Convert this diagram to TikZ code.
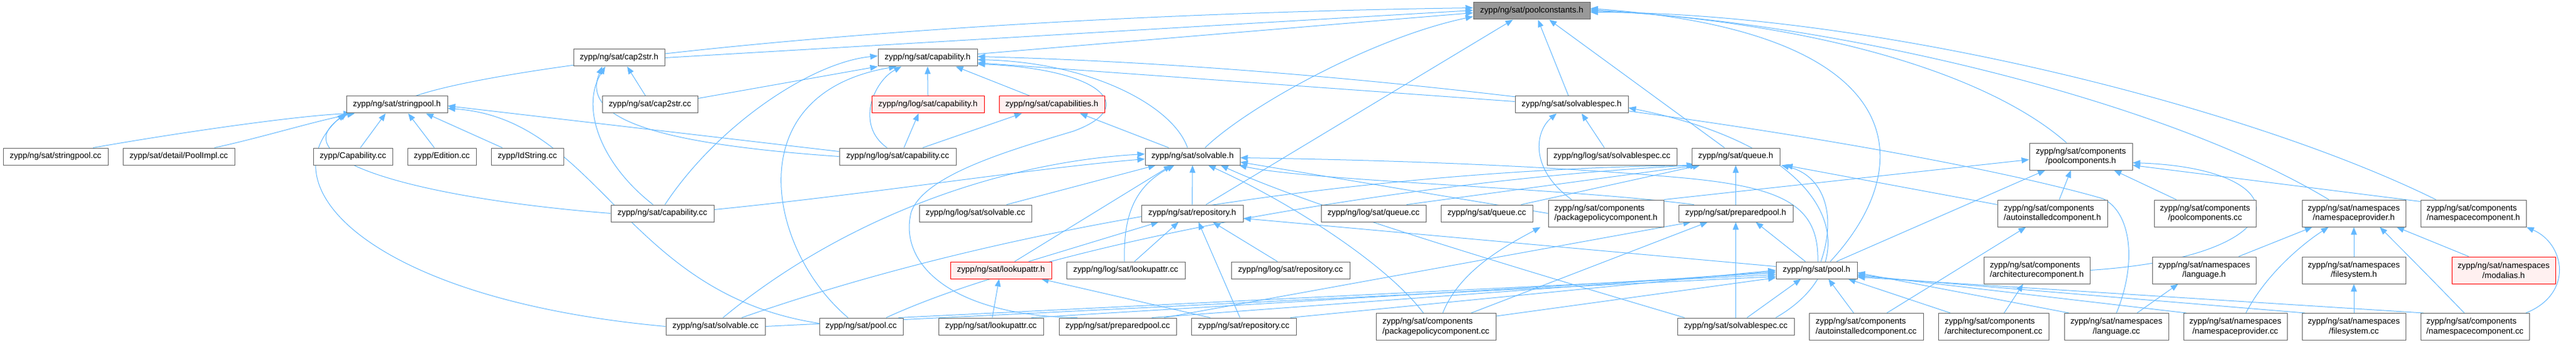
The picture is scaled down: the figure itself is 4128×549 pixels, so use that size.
\documentclass[tikz,border=0pt]{standalone}
\usepackage{fontspec}
\setmainfont{Liberation Sans}
\usetikzlibrary{arrows.meta,calc}
\definecolor{edgec}{HTML}{63B8FF}
\definecolor{bordc}{HTML}{666666}
\definecolor{rootc}{HTML}{999999}
\definecolor{redf}{HTML}{FFF0F0}
\pgfdeclarelayer{bg}
\pgfsetlayers{bg,main}
\tikzset{
  nd/.style={draw=bordc, fill=white, line width=0.75pt, inner sep=0pt,
    minimum height=20.25pt, font=\fontsize{10}{11.75}\selectfont, text=black},
  two/.style={minimum height=32.25pt},
  rootn/.style={fill=rootc},
  redn/.style={draw=red, fill=redf},
  W/.style={minimum width=#1*0.75pt},
  edg/.style={draw=edgec, line width=0.75pt, -{Triangle[length=9pt,width=7pt]}}
}
\begin{document}
\begin{tikzpicture}[x=0.75pt,y=-0.75pt]
\useasboundingbox (0,0) rectangle (4128,549);
% row 0
\node[nd,rootn,W=187] (pc) at (2454.5,17.5) {zypp/ng/sat/poolconstants.h};
% row 1
\node[nd,W=146] (c2sh) at (992,92.5) {zypp/ng/sat/cap2str.h};
\node[nd,W=159] (caph) at (1486.5,92.5) {zypp/ng/sat/capability.h};
% row 2
\node[nd,W=162] (sph) at (636,167.5) {zypp/ng/sat/stringpool.h};
\node[nd,W=153] (c2scc) at (1041.5,167.5) {zypp/ng/sat/cap2str.cc};
\node[nd,redn,W=180] (lcaph) at (1487,167.5) {zypp/ng/log/sat/capability.h};
\node[nd,redn,W=169] (capsh) at (1685.5,167.5) {zypp/ng/sat/capabilities.h};
\node[nd,W=181] (ssph) at (2518.5,167.5) {zypp/ng/sat/solvablespec.h};
% row 3
\node[nd,W=168] (spcc) at (89,250.5) {zypp/ng/sat/stringpool.cc};
\node[nd,W=179] (pimpl) at (286.5,250.5) {zypp/sat/detail/PoolImpl.cc};
\node[nd,W=127] (Capcc) at (565.5,250.5) {zypp/Capability.cc};
\node[nd,W=110] (Edcc) at (708,250.5) {zypp/Edition.cc};
\node[nd,W=116] (Idcc) at (845,250.5) {zypp/IdString.cc};
\node[nd,W=187] (lcapcc) at (1438.5,250.5) {zypp/ng/log/sat/capability.cc};
\node[nd,W=152] (solh) at (1911,250.5) {zypp/ng/sat/solvable.h};
\node[nd,W=208] (lsspcc) at (2583,250.5) {zypp/ng/log/sat/solvablespec.cc};
\node[nd,W=141] (queh) at (2781.5,250.5) {zypp/ng/sat/queue.h};
\node[nd,two,W=165,align=center] (pcomph) at (3334.5,250.5) {zypp/ng/sat/components\\/poolcomponents.h};
% row 4
\node[nd,W=165] (capcc) at (1061.5,341.5) {zypp/ng/sat/capability.cc};
\node[nd,W=180] (lsolcc) at (1563,341.5) {zypp/ng/log/sat/solvable.cc};
\node[nd,W=163] (repoh) at (1910.5,341.5) {zypp/ng/sat/repository.h};
\node[nd,W=168] (lqcc) at (2201,341.5) {zypp/ng/log/sat/queue.cc};
\node[nd,W=147] (qcc) at (2382.5,341.5) {zypp/ng/sat/queue.cc};
\node[nd,two,W=185,align=left] (ppch) at (2573.5,341.5) {zypp/ng/sat/components\\/packagepolicycomponent.h};
\node[nd,W=183] (pph) at (2781.5,341.5) {zypp/ng/sat/preparedpool.h};
\node[nd,two,W=176,align=left] (aich) at (3289,341.5) {zypp/ng/sat/components\\/autoinstalledcomponent.h};
\node[nd,two,W=163,align=center] (pcompcc) at (3533.5,341.5) {zypp/ng/sat/components\\/poolcomponents.cc};
\node[nd,two,W=166,align=center] (nsph) at (3772,341.5) {zypp/ng/sat/namespaces\\/namespaceprovider.h};
\node[nd,two,W=169,align=left] (nsch) at (3963.5,341.5) {zypp/ng/sat/components\\/namespacecomponent.h};
% row 5
\node[nd,redn,W=162] (lah) at (1604,432.5) {zypp/ng/sat/lookupattr.h};
\node[nd,W=190] (llacc) at (1804,432.5) {zypp/ng/log/sat/lookupattr.cc};
\node[nd,W=190] (lrepocc) at (2068,432.5) {zypp/ng/log/sat/repository.cc};
\node[nd,W=130] (poolh) at (2911,432.5) {zypp/ng/sat/pool.h};
\node[nd,two,W=170,align=left] (arch) at (3264,432.5) {zypp/ng/sat/components\\/architecturecomponent.h};
\node[nd,two,W=166,align=center] (langh) at (3532,432.5) {zypp/ng/sat/namespaces\\/language.h};
\node[nd,two,W=166,align=center] (fsh) at (3772,432.5) {zypp/ng/sat/namespaces\\/filesystem.h};
\node[nd,two,redn,W=166,align=center] (modh) at (4012,432.5) {zypp/ng/sat/namespaces\\/modalias.h};
% row 6
\node[nd,W=159] (solcc) at (1146.5,522.5) {zypp/ng/sat/solvable.cc};
\node[nd,W=134] (poolcc) at (1380,522.5) {zypp/ng/sat/pool.cc};
\node[nd,W=168] (lacc) at (1588,522.5) {zypp/ng/sat/lookupattr.cc};
\node[nd,W=188] (ppcc) at (1791,522.5) {zypp/ng/sat/preparedpool.cc};
\node[nd,W=168] (repocc) at (1993,522.5) {zypp/ng/sat/repository.cc};
\node[nd,two,W=192,align=left] (ppccc) at (2301,523) {zypp/ng/sat/components\\/packagepolicycomponent.cc};
\node[nd,W=187] (sspcc) at (2781.5,522.5) {zypp/ng/sat/solvablespec.cc};
\node[nd,two,W=183,align=left] (aicc) at (2990.5,523) {zypp/ng/sat/components\\/autoinstalledcomponent.cc};
\node[nd,two,W=177,align=left] (arcc) at (3194.5,523) {zypp/ng/sat/components\\/architecturecomponent.cc};
\node[nd,two,W=167,align=center] (langcc) at (3391.5,523) {zypp/ng/sat/namespaces\\/language.cc};
\node[nd,two,W=166,align=center] (nspcc) at (3582,523) {zypp/ng/sat/namespaces\\/namespaceprovider.cc};
\node[nd,two,W=166,align=center] (fscc) at (3772,523) {zypp/ng/sat/namespaces\\/filesystem.cc};
\node[nd,two,W=174,align=left] (nsccc) at (3966,523) {zypp/ng/sat/components\\/namespacecomponent.cc};

\begin{pgfonlayer}{bg}
% ---- to poolconstants.h
\draw[edg] ($(sph.north)+(30,0)$) .. controls (820,100) and (1500,25) .. ($(pc.west)+(0,-5)$);
\draw[edg] (c2sh.east) -- ($(pc.west)+(0,-1)$);
\draw[edg] ($(caph.east)+(0,-6)$) -- ($(pc.west)+(0,3)$);
\draw[edg] ($(solh.north)+(20,0)$) .. controls (2000,170) and (2200,60) .. ($(pc.west)+(0,9)$);
\draw[edg] ($(repoh.north)+(22,0)$) -- ($(pc.south)+(-30,0)$);
\draw[edg] ($(ssph.north)+(-5,0)$) -- ($(pc.south)+(10,0)$);
\draw[edg] ($(queh.north)+(-18,0)$) -- ($(pc.south)+(28,0)$);
\draw[edg] ($(poolh.north)+(22,0)$) .. controls (3080,260) and (3060,50) .. ($(pc.east)+(0,-4)$);
\draw[edg] ($(pcomph.north)+(-23,0)$) .. controls (3200,130) and (2950,40) .. ($(pc.east)+(0,-2)$);
\draw[edg] ($(nsph.north)+(-40,0)$) .. controls (3450,150) and (2900,30) .. (pc.east);
\draw[edg] ($(nsch.north)+(-60,0)$) .. controls (3600,170) and (3000,20) .. ($(pc.east)+(0,2)$);
% ---- to capability.h
\draw[edg] (lcaph.north) -- (caph.south);
\draw[edg] ($(capsh.north)+(-35,0)$) -- ($(caph.south)+(45,0)$);
\draw[edg] ($(lcapcc.north)+(-17,0)$) .. controls (1370,200) and (1400,130) .. ($(caph.south)+(-42,0)$);
\draw[edg] ($(capcc.north)+(4,0)$) .. controls (1150,200) and (1300,100) .. ($(caph.west)+(0,-3)$);
\draw[edg] ($(c2scc.east)+(0,-10)$) -- (caph.south west);
\draw[edg] ($(solh.north)+(-8,0)$) .. controls (1880,170) and (1750,100) .. ($(caph.east)+(0,3)$);
\draw[edg] ($(poolcc.north)+(-21,0)$) .. controls (1230,400) and (1180,150) .. ($(caph.south)+(-50,0)$);
\draw[edg] ($(ssph.west)+(0,-5)$) -- ($(caph.east)+(0,8)$);
\draw[edg] (langcc.north) .. controls (3425,420) and (3415,340) .. (3370,318)
   .. controls (3100,240) and (2300,110) .. ($(caph.east)+(0,-2)$);
\draw[edg] ($(ppcc.north west)+(30,0)$) .. controls (1520,505) and (1440,420) .. (1460,340)
   .. controls (1480,280) and (1620,240) .. (1720,210)
   .. controls (1830,170) and (1760,110) .. ($(caph.east)+(0,10)$);
% ---- to cap2str.h
\draw[edg] ($(c2scc.north)+(-7,0)$) -- ($(c2sh.south)+(13,0)$);
\draw[edg] ($(capcc.north)+(-15,0)$) .. controls (960,260) and (930,170) .. ($(c2sh.south)+(-22,0)$);
\draw[edg] (lcapcc.west) .. controls (1050,230) and (930,190) .. ($(c2sh.south)+(-27,0)$);
% ---- to stringpool.h
\draw[edg] ($(spcc.north)+(60,0)$) .. controls (300,210) and (480,185) .. ($(sph.south west)+(8,0)$);
\draw[edg] ($(pimpl.north)+(57,0)$) .. controls (420,220) and (500,195) .. ($(sph.south west)+(14,0)$);
\draw[edg] ($(Capcc.north)+(12,0)$) -- ($(sph.south)+(-18,0)$);
\draw[edg] ($(Edcc.north)+(-12,0)$) -- ($(sph.south)+(18,0)$);
\draw[edg] ($(Idcc.north)+(-40,0)$) -- ($(sph.south east)+(-35,0)$);
\draw[edg] (capcc.west) .. controls (700,320) and (440,260) .. ($(sph.south west)+(2,0)$);
\draw[edg] (solcc.west) .. controls (600,480) and (420,300) .. ($(sph.south west)+(-2,0)$);
\draw[edg] ($(poolcc.west)+(0,-5)$) .. controls (1000,470) and (960,190) .. ($(sph.east)+(0,6)$);
\draw[edg] ($(lcapcc.west)+(0,-8)$) -- ($(sph.east)+(0,2)$);
% ---- log capability.h, capabilities.h
\draw[edg] ($(lcapcc.north)+(10,0)$) -- ($(lcaph.south)+(-15,0)$);
\draw[edg] ($(lcapcc.north)+(40,0)$) -- ($(capsh.south)+(-48,0)$);
\draw[edg] ($(solh.north)+(-38,0)$) -- ($(capsh.south)+(45,0)$);
% ---- solvablespec.h
\draw[edg] ($(lsspcc.north)+(-12,0)$) -- ($(ssph.south)+(16,0)$);
\draw[edg] ($(sspcc.north east)+(-30,0)$) .. controls (3000,420) and (2950,240) .. ($(ssph.east)+(0,5)$);
\draw[edg] ($(ppch.north)+(-55,0)$) .. controls (2450,270) and (2460,210) .. ($(ssph.south)+(-24,0)$);
% ---- solvable.h
\draw[edg] ($(lsolcc.north)+(50,0)$) -- ($(solh.south)+(-59,0)$);
\draw[edg] (repoh.north) -- (solh.south);
\draw[edg] ($(lah.north)+(22,0)$) -- ($(solh.south)+(-34,0)$);
\draw[edg] ($(llacc.north)+(-2,0)$) .. controls (1800,350) and (1815,300) .. ($(solh.south)+(-29,0)$);
\draw[edg] ($(capcc.east)+(0,-6)$) .. controls (1400,310) and (1650,270) .. ($(solh.west)+(0,4)$);
\draw[edg] ($(solcc.north)+(12,0)$) .. controls (1350,350) and (1600,260) .. ($(solh.west)+(0,-4)$);
\draw[edg] ($(poolh.north)+(2,0)$) .. controls (2915,330) and (2860,300) .. (2700,285) .. controls (2450,262) and (2150,255) .. ($(solh.east)+(0,2)$);
\draw[edg] ($(ppccc.north)+(-20,0)$) .. controls (2220,420) and (2060,320) .. ($(solh.south)+(25,0)$);
\draw[edg] (ppch.west) -- ($(solh.east)+(0,9)$);
\draw[edg] ($(sspcc.north west)+(12,0)$) .. controls (2400,420) and (2100,330) .. ($(solh.south)+(45,0)$);
\draw[edg] ($(pph.north west)+(25,0)$) .. controls (2500,300) and (2100,290) .. ($(solh.south east)+(-2,0)$);
% ---- repository.h
\draw[edg] ($(lah.north east)+(-37,0)$) -- ($(repoh.south)+(-54,0)$);
\draw[edg] ($(llacc.north)+(14,0)$) -- ($(repoh.south)+(-22,0)$);
\draw[edg] ($(repocc.north)+(-6,0)$) -- ($(repoh.south)+(10,0)$);
\draw[edg] ($(lrepocc.north)+(-21,0)$) -- ($(repoh.south)+(33,0)$);
\draw[edg] ($(poolh.west)+(0,-6)$) -- ($(repoh.east)+(0,8)$);
% ---- lookupattr.h
\draw[edg] ($(lacc.north)+(2,0)$) -- ($(lah.south)+(-3,0)$);
\draw[edg] ($(repocc.north west)+(31,0)$) -- ($(lah.south east)+(-17,0)$);
% ---- queue.h
\draw[edg] ($(lqcc.north)+(53,0)$) -- ($(queh.south west)+(10,0)$);
\draw[edg] ($(qcc.north)+(55,0)$) -- ($(queh.south west)+(14,0)$);
\draw[edg] (pph.north) -- (queh.south);
\draw[edg] ($(poolh.north)+(7,0)$) .. controls (2945,340) and (2920,280) .. ($(queh.south east)+(2,0)$);
\draw[edg] ($(aich.west)+(0,-14)$) -- ($(queh.south east)+(8,0)$);
\draw[edg] ($(solcc.north)+(42,0)$) .. controls (1700,330) and (2300,270) .. ($(queh.south west)+(4,0)$);
\draw[edg] ($(poolcc.north)+(40,0)$) .. controls (1700,380) and (2300,285) .. ($(queh.south west)+(7,0)$);
% ---- preparedpool.h
\draw[edg] ($(poolh.north)+(-18,0)$) -- ($(pph.south east)+(-60,0)$);
\draw[edg] (sspcc.north) -- (pph.south);
\draw[edg] ($(ppcc.north east)+(-20,0)$) -- ($(pph.south west)+(20,0)$);
\draw[edg] ($(ppccc.north east)+(-40,0)$) -- ($(pph.south west)+(47,0)$);
% ---- pool.h (left)
\draw[edg] (solcc.east) -- ($(poolh.west)+(0,10)$);
\draw[edg] ($(poolcc.north east)+(-8,0)$) -- ($(poolh.west)+(0,7)$);
\draw[edg] ($(lacc.north east)+(-20,0)$) -- ($(poolh.west)+(0,4)$);
\draw[edg] ($(ppcc.north east)+(-40,0)$) -- ($(poolh.west)+(0,2)$);
\draw[edg] ($(repocc.north east)+(-10,0)$) -- (poolh.west);
\draw[edg] ($(ppccc.north east)+(0,5)$) -- ($(poolh.west)+(0,12)$);
% ---- pool.h (bottom / right)
\draw[edg] ($(sspcc.north)+(18,0)$) -- ($(poolh.south)+(-25,0)$);
\draw[edg] ($(aicc.north)+(-20,0)$) -- ($(poolh.south)+(19,0)$);
\draw[edg] ($(arcc.north west)+(20,0)$) -- ($(poolh.south east)+(-15,0)$);
\draw[edg] ($(langcc.north west)+(8,0)$) -- ($(poolh.east)+(0,4)$);
\draw[edg] ($(nspcc.north west)+(5,0)$) -- ($(poolh.east)+(0,7)$);
\draw[edg] ($(fscc.north west)+(5,0)$) -- ($(poolh.east)+(0,9)$);
\draw[edg] ($(nsccc.north west)+(5,0)$) -- ($(poolh.east)+(0,11)$);
% ---- poolcomponents.h
\draw[edg] ($(poolh.north)+(32,0)$) -- ($(pcomph.south west)+(26,0)$);
\draw[edg] ($(aich.north)+(11,0)$) -- ($(pcomph.south)+(-16,0)$);
\draw[edg] (ppch.north east) -- ($(pcomph.west)+(0,5)$);
\draw[edg] (arch.east) .. controls (3690,410) and (3690,270) .. ($(pcomph.east)+(0,10)$);
\draw[edg] ($(nsch.north west)+(0,3)$) -- ($(pcomph.east)+(0,14)$);
\draw[edg] ($(pcompcc.north)+(-46,0)$) -- ($(pcomph.south east)+(-30,0)$);
% ---- components / namespaces
\draw[edg] ($(aicc.north east)+(-59,0)$) -- ($(aich.south west)+(46,0)$);
\draw[edg] ($(arcc.north)+(17,0)$) -- ($(arch.south)+(-22,0)$);
\draw[edg] ($(ppccc.north)+(11,0)$) .. controls (2340,430) and (2420,390) .. ($(ppch.south west)+(-12,0)$);
\draw[edg] ($(langh.north east)+(-28,0)$) -- ($(nsph.south west)+(17,0)$);
\draw[edg] ($(nspcc.north)+(17,0)$) .. controls (3630,440) and (3690,390) .. ($(nsph.south west)+(43,0)$);
\draw[edg] (fsh.north) -- (nsph.south);
\draw[edg] ($(modh.north)+(-56,0)$) -- ($(nsph.south east)+(-15,0)$);
\draw[edg] ($(nsccc.north)+(-17,0)$) .. controls (3890,440) and (3840,390) .. ($(nsph.south east)+(-42,0)$);
\draw[edg] ($(nsccc.north east)+(-6,0)$) .. controls (4125,470) and (4110,390) .. (nsch.south east);
\draw[edg] ($(langcc.north east)+(-51,0)$) -- ($(langh.south west)+(42,0)$);
\draw[edg] (fscc.north) -- (fsh.south);
\end{pgfonlayer}
\end{tikzpicture}
\end{document}
